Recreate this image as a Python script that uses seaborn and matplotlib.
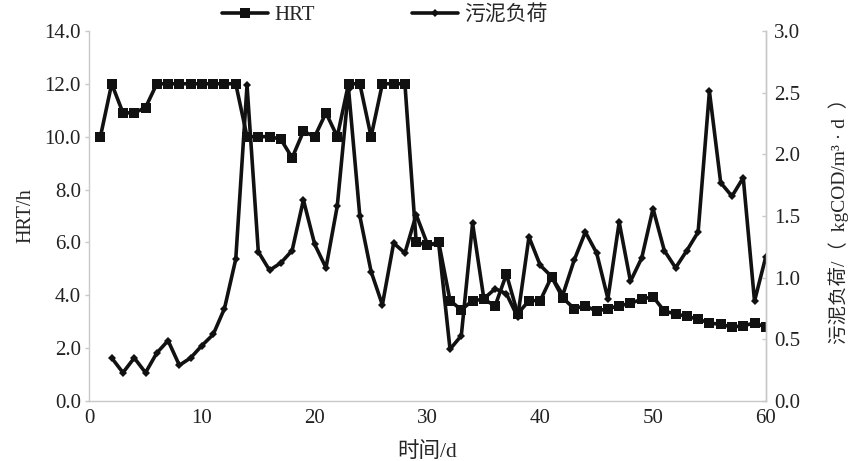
import numpy as np
import pandas as pd
import seaborn as sns
import matplotlib.pyplot as plt

# HRT (h), days 1-60
days_hrt = list(range(1, 61))
hrt = [10.0, 12.0, 10.9, 10.9, 11.1, 12.0, 12.0, 12.0, 12.0, 12.0,
       12.0, 12.0, 12.0, 10.0, 10.0, 10.0, 9.9, 9.2, 10.2, 10.0,
       10.9, 10.0, 12.0, 12.0, 10.0, 12.0, 12.0, 12.0, 6.0, 5.9,
       6.0, 3.8, 3.45, 3.8, 3.85, 3.6, 4.8, 3.3, 3.8, 3.8,
       4.7, 3.9, 3.5, 3.6, 3.4, 3.5, 3.6, 3.7, 3.85, 3.95,
       3.4, 3.3, 3.2, 3.1, 2.95, 2.9, 2.8, 2.85, 2.95, 2.8]

# 污泥负荷 kgCOD/(m3·d), days 2-60
days_load = list(range(2, 61))
load = [0.35, 0.23, 0.35, 0.23, 0.39, 0.49, 0.29, 0.35, 0.45,
        0.54, 0.75, 1.15, 2.56, 1.21, 1.06, 1.12, 1.22, 1.63, 1.27,
        1.08, 1.58, 2.53, 1.50, 1.05, 0.78, 1.28, 1.20, 1.51, 1.27,
        1.27, 0.42, 0.53, 1.44, 0.83, 0.91, 0.87, 0.68, 1.33, 1.10,
        1.01, 0.86, 1.14, 1.37, 1.20, 0.83, 1.45, 0.97, 1.16, 1.56,
        1.22, 1.08, 1.22, 1.37, 2.51, 1.77, 1.66, 1.81, 0.81, 1.17]

df_hrt = pd.DataFrame({"day": days_hrt, "hrt": hrt})
df_load = pd.DataFrame({"day": days_load, "load": load})

sns.set_style("white")
plt.rcParams["font.family"] = ["Liberation Serif", "Noto Sans CJK SC"]
fs = 15

fig = plt.figure(figsize=(8.49, 4.61), dpi=100)
ax = fig.add_axes([0.105, 0.130, 0.797, 0.803])
ax2 = ax.twinx()

sns.lineplot(data=df_hrt, x="day", y="hrt", ax=ax, color="#111111",
             linewidth=2.6, marker="s", markersize=6.5, markeredgewidth=0,
             label="HRT", legend=False)
sns.lineplot(data=df_load, x="day", y="load", ax=ax2, color="#111111",
             linewidth=2.6, marker="D", markersize=4.5, markeredgewidth=0,
             label="污泥负荷", legend=False)

ax.set_xlim(0, 60)
ax.set_ylim(0, 14)
ax2.set_ylim(0, 3)
ax.set_xticks(range(0, 61, 10))
ax.set_yticks(np.arange(0, 14.1, 2))
ax.set_yticklabels([f"{v:.1f}" for v in np.arange(0, 14.1, 2)])
ax2.set_yticks(np.arange(0, 3.01, 0.5))
ax2.set_yticklabels([f"{v:.1f}" for v in np.arange(0, 3.01, 0.5)])

ax.set_xlabel("时间/d", fontsize=15.5)
ax.xaxis.set_label_coords(0.5, -0.11)
ax.set_ylabel("HRT/h", fontsize=14.5)
ax.yaxis.set_label_coords(-0.08, 0.5)
ax2.set_ylabel("污泥负荷/（  kgCOD/m³ · d  ）", fontsize=14)
ax2.yaxis.set_label_coords(1.093, 0.5)

for a in (ax, ax2):
    a.spines["top"].set_visible(False)
    for side in ("left", "right", "bottom"):
        a.spines[side].set_color("#c8c8c8")
        a.spines[side].set_linewidth(1.0)
    a.tick_params(colors="#c8c8c8", labelcolor="#222222", length=3, width=1,
                  labelsize=fs)
ax.tick_params(axis="x", direction="in", pad=6)
ax.tick_params(axis="y", direction="out", pad=3)
ax2.tick_params(axis="y", direction="in", pad=6)
ax2.spines["left"].set_visible(False)
ax2.spines["bottom"].set_visible(False)

h1, l1 = ax.get_legend_handles_labels()
h2, l2 = ax2.get_legend_handles_labels()
fig.legend(h1 + h2, l1 + l2, loc="center", bbox_to_anchor=(0.4535, 0.967),
           ncol=2, frameon=False, fontsize=fs, columnspacing=4.7,
           handlelength=2.2, handletextpad=0.3, borderpad=0.2)

fig.savefig("out.png", dpi=100)
